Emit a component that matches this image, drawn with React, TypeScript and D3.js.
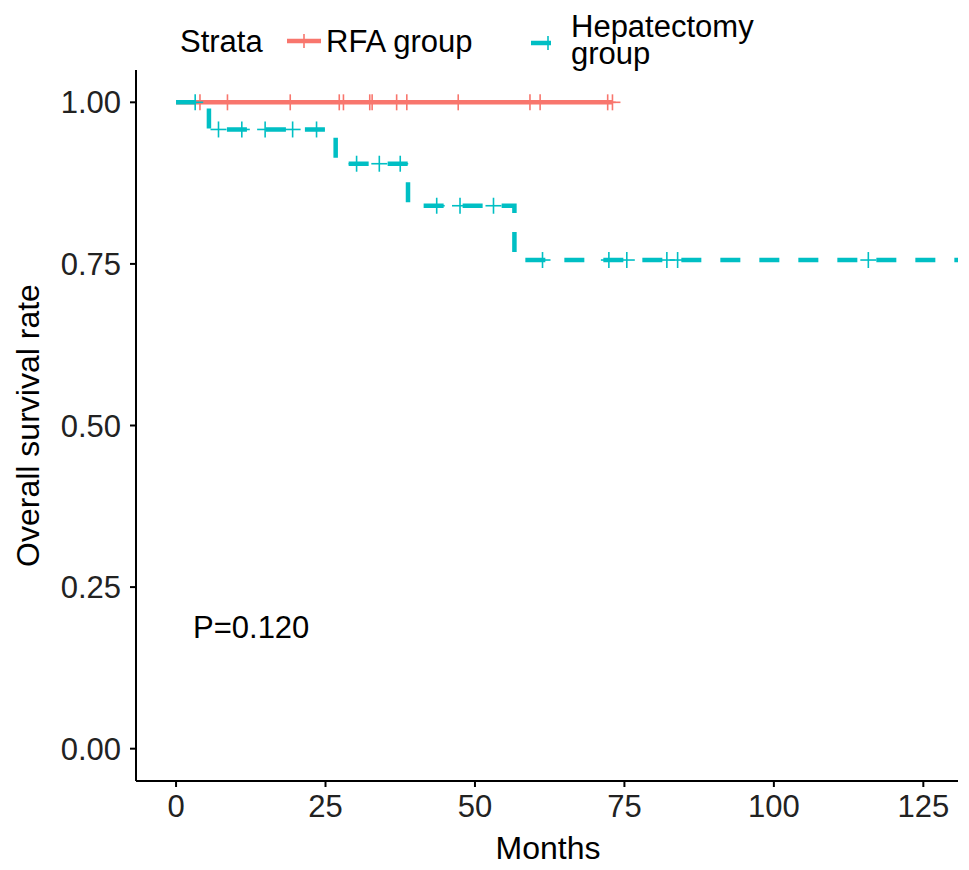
import * as d3 from 'd3';
import React, { useEffect } from 'react';

// Kaplan-Meier style chart (RFA vs Hepatectomy)
const groupNames = ['RFA group', 'Hepatectomy group'];
const groupColors = ['#F8766D', '#00BFC4'];

// RFA: no events, survival stays at 1 until last follow-up
const rfaTimes = [0, 73];
const rfaSurvival = [1, 1];
const rfaCensored = [4.0, 8.6, 19.1, 27.3, 28.0, 32.4, 32.8, 36.9, 38.6, 47.2, 59.2, 60.9, 72.2, 73.0];

// Hepatectomy: step times and survival after each step
const hepTimes = [0, 5.5, 26.7, 38.8, 56.6, 131];
const hepSurvival = [1, 0.958, 0.905, 0.84, 0.756, 0.756];
const hepCensored = [
  3.2, 7.1, 11.0, 14.9, 19.5, 23.5, 30.2, 34.0, 37.5, 43.6, 47.5, 53.1, 61.3, 72.4, 75.4, 82.1,
  83.9, 115.8,
];

const xTicks = [0, 25, 50, 75, 100, 125];
const yTicks = [0, 0.25, 0.5, 0.75, 1];
const pValueText = 'P=0.120';

const FONT = '"Liberation Sans", Arial, Helvetica, sans-serif';

export default function App() {
  const ref = React.useRef<HTMLDivElement>(null);

  useEffect(() => {
    if (!ref.current) return;
    ref.current.innerHTML = '';

    const W = 969;
    const H = 870;
    const plot = { left: 136, right: 958, top: 70, bottom: 781 };

    const svg = d3
      .select(ref.current)
      .append('svg')
      .attr('width', W)
      .attr('height', H)
      .style('display', 'block')
      .style('font-family', FONT);

    svg.append('rect').attr('width', W).attr('height', H).attr('fill', '#fff');

    const x = d3.scaleLinear().domain([-6.7, 130.8]).range([plot.left, plot.right]);
    const y = d3.scaleLinear().domain([-0.05, 1.05]).range([plot.bottom, plot.top]);

    svg
      .append('clipPath')
      .attr('id', 'plot-clip')
      .append('rect')
      .attr('x', plot.left)
      .attr('y', plot.top - 10)
      .attr('width', plot.right - plot.left)
      .attr('height', plot.bottom - plot.top + 10);

    const g = svg.append('g').attr('clip-path', 'url(#plot-clip)');

    const stepLine = d3
      .line<[number, number]>()
      .x(d => x(d[0]))
      .y(d => y(d[1]))
      .curve(d3.curveStepAfter);

    // survival at time t for a step curve
    const survAt = (times: number[], surv: number[], t: number) => {
      let s = surv[0];
      for (let i = 0; i < times.length; i++) if (times[i] <= t) s = surv[i];
      return s;
    };

    const drawCensor = (
      sel: d3.Selection<SVGGElement, unknown, null, undefined>,
      pts: [number, number][],
      color: string
    ) => {
      const m = sel
        .selectAll(null)
        .data(pts)
        .enter()
        .append('g')
        .attr('transform', d => `translate(${x(d[0])},${y(d[1])})`)
        .attr('stroke', color)
        .attr('stroke-width', 1.6);
      m.append('line').attr('x1', -8).attr('x2', 8).attr('y1', 0).attr('y2', 0);
      m.append('line').attr('x1', 0).attr('x2', 0).attr('y1', -8).attr('y2', 8);
    };

    // RFA curve
    g.append('path')
      .datum(rfaTimes.map((t, i) => [t, rfaSurvival[i]] as [number, number]))
      .attr('fill', 'none')
      .attr('stroke', groupColors[0])
      .attr('stroke-width', 4.5)
      .attr('d', stepLine);
    drawCensor(
      g.append('g'),
      rfaCensored.map(t => [t, survAt(rfaTimes, rfaSurvival, t)] as [number, number]),
      groupColors[0]
    );

    // Hepatectomy curve (dashed)
    g.append('path')
      .datum(hepTimes.map((t, i) => [t, hepSurvival[i]] as [number, number]))
      .attr('fill', 'none')
      .attr('stroke', groupColors[1])
      .attr('stroke-width', 4.5)
      .attr('stroke-dasharray', '20 19')
      .attr('d', stepLine);
    drawCensor(
      g.append('g'),
      hepCensored.map(t => [t, survAt(hepTimes, hepSurvival, t)] as [number, number]),
      groupColors[1]
    );

    // Axes
    const axisColor = '#000';
    svg
      .append('line')
      .attr('x1', plot.left)
      .attr('x2', plot.left)
      .attr('y1', plot.top)
      .attr('y2', plot.bottom)
      .attr('stroke', axisColor)
      .attr('stroke-width', 2);
    svg
      .append('line')
      .attr('x1', plot.left)
      .attr('x2', plot.right)
      .attr('y1', plot.bottom)
      .attr('y2', plot.bottom)
      .attr('stroke', axisColor)
      .attr('stroke-width', 2);

    const yt = svg.append('g');
    yt.selectAll(null)
      .data(yTicks)
      .enter()
      .append('line')
      .attr('x1', plot.left - 6)
      .attr('x2', plot.left)
      .attr('y1', d => y(d))
      .attr('y2', d => y(d))
      .attr('stroke', axisColor)
      .attr('stroke-width', 2);
    yt.selectAll(null)
      .data(yTicks)
      .enter()
      .append('text')
      .attr('x', plot.left - 15)
      .attr('y', d => y(d))
      .attr('dy', '0.36em')
      .attr('text-anchor', 'end')
      .attr('font-size', 31)
      .attr('fill', '#222')
      .text(d => d3.format('.2f')(d));

    const xt = svg.append('g');
    xt.selectAll(null)
      .data(xTicks)
      .enter()
      .append('line')
      .attr('x1', d => x(d))
      .attr('x2', d => x(d))
      .attr('y1', plot.bottom)
      .attr('y2', plot.bottom + 6)
      .attr('stroke', axisColor)
      .attr('stroke-width', 2);
    xt.selectAll(null)
      .data(xTicks)
      .enter()
      .append('text')
      .attr('x', d => x(d))
      .attr('y', plot.bottom + 36)
      .attr('text-anchor', 'middle')
      .attr('font-size', 31)
      .attr('fill', '#222')
      .text(d => String(d));

    // Axis titles
    svg
      .append('text')
      .attr('x', (plot.left + plot.right) / 2 + 1)
      .attr('y', 859)
      .attr('text-anchor', 'middle')
      .attr('font-size', 32)
      .text('Months');
    svg
      .append('text')
      .attr('transform', `translate(39,${(plot.top + plot.bottom) / 2}) rotate(-90)`)
      .attr('text-anchor', 'middle')
      .attr('font-size', 32)
      .text('Overall survival rate');

    // P-value
    svg
      .append('text')
      .attr('x', 193)
      .attr('y', 638)
      .attr('font-size', 31)
      .text(pValueText);

    // Legend
    const legend = svg.append('g').attr('font-size', 31);
    legend.append('text').attr('x', 180).attr('y', 52).text('Strata');

    const key1 = legend.append('g');
    key1
      .append('line')
      .attr('x1', 287)
      .attr('x2', 321)
      .attr('y1', 41)
      .attr('y2', 41)
      .attr('stroke', groupColors[0])
      .attr('stroke-width', 4.5);
    key1
      .append('line')
      .attr('x1', 304)
      .attr('x2', 304)
      .attr('y1', 34)
      .attr('y2', 48)
      .attr('stroke', groupColors[0])
      .attr('stroke-width', 1.6);
    legend.append('text').attr('x', 326).attr('y', 52).text(groupNames[0]);

    const key2 = legend.append('g');
    key2
      .append('line')
      .attr('x1', 531)
      .attr('x2', 565)
      .attr('y1', 43)
      .attr('y2', 43)
      .attr('stroke', groupColors[1])
      .attr('stroke-width', 4.5)
      .attr('stroke-dasharray', '20 19');
    key2
      .append('line')
      .attr('x1', 548)
      .attr('x2', 548)
      .attr('y1', 36)
      .attr('y2', 50)
      .attr('stroke', groupColors[1])
      .attr('stroke-width', 1.6);
    const hepWords = groupNames[1].split(' ');
    legend.append('text').attr('x', 571).attr('y', 37).text(hepWords[0]);
    legend.append('text').attr('x', 571).attr('y', 64).text(hepWords[1]);
  }, []);

  return <div ref={ref} style={{ position: 'absolute', left: 0, top: 0 }}></div>;
}
